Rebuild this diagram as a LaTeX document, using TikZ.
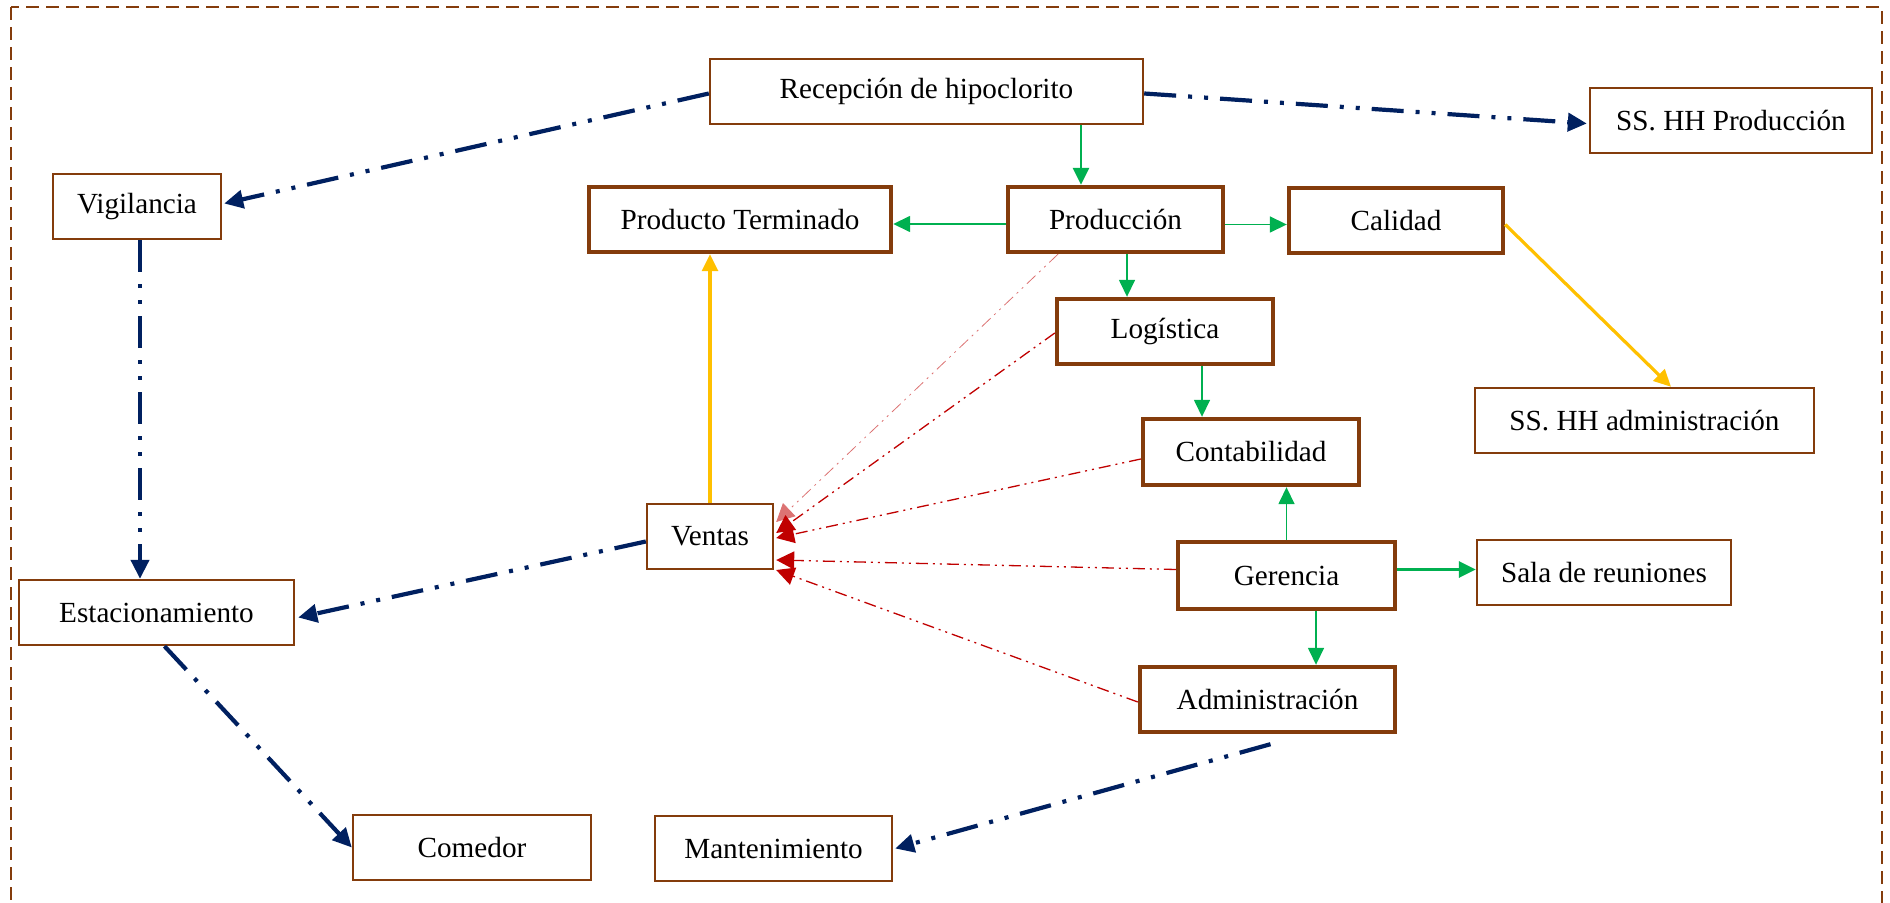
\documentclass[tikz,border=0pt]{standalone}
\usepackage{fontspec}
\setmainfont{Liberation Serif}
\usetikzlibrary{arrows.meta,calc}
\definecolor{boxbrown}{HTML}{843C0C}
\definecolor{navy}{HTML}{002060}
\definecolor{flowgreen}{HTML}{00B050}
\definecolor{gold}{HTML}{FFC000}
\definecolor{darkred}{HTML}{C00000}
\begin{document}
\begin{tikzpicture}[x=0.5pt,y=-0.5pt,
  font=\fontsize{14.6}{17}\selectfont,
  sz/.style 2 args={minimum width=#1*0.5pt, minimum height=#2*0.5pt},
  thinbox/.style={draw=boxbrown, line width=1.2pt, fill=white, inner sep=0pt},
  thickbox/.style={draw=boxbrown, line width=2.2pt, fill=white, inner sep=0pt},
  navyflow/.style={draw=navy, line width=2.1pt,
    dash pattern=on 16pt off 6pt on 2pt off 6pt on 2pt off 6pt,
    -{Triangle[length=9.5pt,width=9pt]}},
  greenflow/.style={draw=flowgreen, line width=0.8pt, -{Triangle[length=8.5pt,width=8pt]}},
  goldflow/.style={draw=gold, line width=1.6pt, -{Triangle[length=8.5pt,width=8pt]}},
  redflow/.style={draw=darkred, line width=0.65pt,
    dash pattern=on 6pt off 2.5pt on 1pt off 2.5pt on 1pt off 2.5pt,
    -{Triangle[length=9pt,width=9pt]}}
]
\useasboundingbox (0,0) rectangle (1890,903);
\clip (0,0) rectangle (1890,903);

% outer frame
\draw[boxbrown, line width=1pt, dash pattern=on 6.5pt off 3.5pt] (11,7) rectangle (1882,940);

% boxes
\node[thinbox, sz={433}{65}]  (rec)   at (926.5,91.5)  {Recepción de hipoclorito};
\node[thinbox, sz={282}{65}]  (sshhp) at (1731,120.5)  {SS. HH Producción};
\node[thinbox, sz={168}{65}]  (vig)   at (137,206.5)   {Vigilancia};
\node[thickbox, sz={302}{65}] (pt)    at (740,219.5)   {Producto Terminado};
\node[thickbox, sz={215}{65}] (prod)  at (1115.5,219.5){Producción};
\node[thickbox, sz={214}{65}] (cal)   at (1396,220.5)  {Calidad};
\node[thickbox, sz={216}{65}] (log)   at (1165,331.5)  {Logística};
\node[thinbox, sz={339}{65}]  (sshha) at (1644.5,420.5){SS. HH administración};
\node[thickbox, sz={216}{66}] (cont)  at (1251,452)    {Contabilidad};
\node[thinbox, sz={126}{65}]  (ven)   at (710,536.5)   {Ventas};
\node[thickbox, sz={217}{67}] (ger)   at (1286.5,575.5){Gerencia};
\node[thinbox, sz={254}{65}]  (sala)  at (1604,572.5)  {Sala de reuniones};
\node[thinbox, sz={275}{65}]  (est)   at (156.5,612.5) {Estacionamiento};
\node[thickbox, sz={255}{65}] (adm)   at (1267.5,699.5){Administración};
\node[thinbox, sz={238}{65}]  (com)   at (472,847.5)   {Comedor};
\node[thinbox, sz={237}{65}]  (man)   at (773.5,848.5) {Mantenimiento};

% attachment points
\coordinate (recdown)  at ($(prod.north)+(-34.5,0)$);
\coordinate (proddown) at ($(log.north)+(-38,0)$);
\coordinate (logdown)  at ($(cont.north)+(-49,0)$);
\coordinate (gerdown)  at ($(ger.south)+(29.5,0)$);
\coordinate (admout)   at ($(adm.south)+(3,10)$);

% navy circulation lines
\draw[navyflow] ($(rec.west)+(0,2)$) -- ($(vig.east)+(2,-3)$);
\draw[navyflow] ($(rec.east)+(0,2)$) -- ($(sshhp.west)+(-2,3)$);
\draw[navyflow] ($(vig.south)+(3,0)$) -- ($(vig.south |- est.north)+(3,0)$);
\draw[navyflow] ($(ven.west)+(0,5)$) -- ($(est.east)+(3,5)$);
\draw[navyflow] ($(est.south)+(8,0)$) -- (com.west);
\draw[navyflow] (admout) -- ($(man.east)+(2,0)$);

% green flow
\draw[greenflow, line width=1.3pt] (recdown |- rec.south) -- (recdown);
\draw[greenflow] ($(prod.west)+(0,4.5)$) -- ($(pt.east)+(0,4.5)$);
\draw[greenflow] ($(prod.east)+(0,5)$) -- ($(cal.west)+(0,4)$);
\draw[greenflow] (proddown |- prod.south) -- (proddown);
\draw[greenflow] (logdown |- log.south) -- (logdown);
\draw[greenflow] (ger.north) -- (ger.north |- cont.south);
\draw[greenflow, line width=1.6pt] ($(ger.east)+(0,-6)$) -- ($(sala.west)+(0,-3)$);
\draw[greenflow] (gerdown) -- (gerdown |- adm.north);

% gold links
\draw[goldflow] ($(cal.east)+(0,4)$) -- ($(sshha.north)+(26.5,0)$);
\draw[goldflow] (ven.north) -- (ven.north |- pt.south);

% red links into Ventas
\draw[redflow, line width=0.4pt, draw=darkred!55] ($(prod.south)+(-57.5,0)$) -- ($(ven.east)+(2,-14.5)$);
\draw[redflow] ($(log.west)+(0,1.5)$) -- ($(ven.east)+(2,-3.5)$);
\draw[redflow] ($(cont.west)+(0,7)$) -- ($(ven.east)+(2,1.5)$);
\draw[redflow] ($(ger.west)+(0,-6)$) -- ($(ven.east)+(2,23.5)$);
\draw[redflow] ($(adm.west)+(0,2.5)$) -- ($(ven.east)+(2,33.5)$);
\end{tikzpicture}
\end{document}
